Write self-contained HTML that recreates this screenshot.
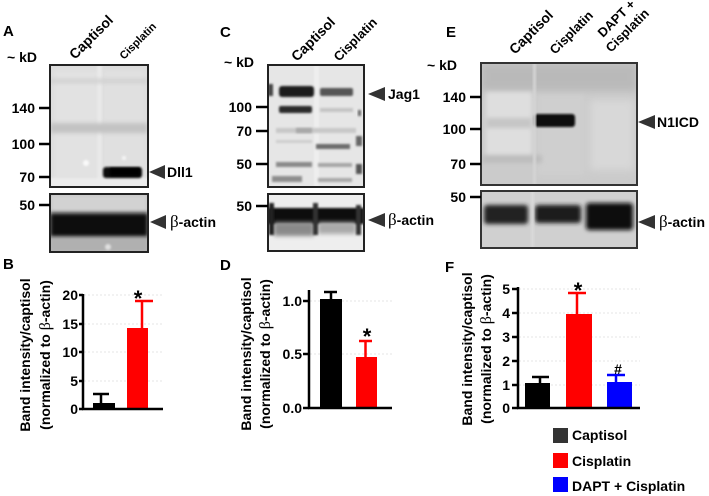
<!DOCTYPE html>
<html>
<head>
<meta charset="utf-8">
<style>
html,body{margin:0;padding:0;background:#fff;}
svg{display:block;}
.t{font-family:"Liberation Sans",Arial,sans-serif;font-weight:bold;fill:#000;}
.g{font-family:"Liberation Serif","Times New Roman",serif;font-weight:normal;}
</style>
</head>
<body>
<svg width="709" height="496" viewBox="0 0 709 496" xmlns="http://www.w3.org/2000/svg">
<defs>
<filter id="b1" x="-30%" y="-80%" width="160%" height="260%"><feGaussianBlur stdDeviation="1.1"/></filter>
<filter id="b2" x="-30%" y="-80%" width="160%" height="260%"><feGaussianBlur stdDeviation="2.2"/></filter>
<filter id="b4" x="-30%" y="-80%" width="160%" height="260%"><feGaussianBlur stdDeviation="4"/></filter>
<clipPath id="cA1"><rect x="50" y="65" width="98" height="122"/></clipPath>
<clipPath id="cA2"><rect x="50" y="194" width="98" height="58"/></clipPath>
<clipPath id="cC1"><rect x="268" y="65" width="96" height="122"/></clipPath>
<clipPath id="cC2"><rect x="268" y="194" width="96" height="57"/></clipPath>
<clipPath id="cE1"><rect x="481" y="63" width="156" height="122"/></clipPath>
<clipPath id="cE2"><rect x="481" y="191" width="156" height="57"/></clipPath>
</defs>
<rect width="709" height="496" fill="#fff"/>

<!-- ============ PANEL A ============ -->
<text class="t" x="3" y="36" font-size="15">A</text>
<text class="t" x="7" y="62" font-size="14">~ kD</text>
<text class="t" transform="translate(75,60) rotate(-45)" font-size="14">Captisol</text>
<text class="t" transform="translate(124,60) rotate(-45)" font-size="11">Cisplatin</text>

<g clip-path="url(#cA1)">
  <rect x="50" y="65" width="98" height="122" fill="#dcdcdc"/>
  <rect x="54" y="70" width="44" height="110" fill="#e2e2e2" filter="url(#b2)"/>
  <rect x="103" y="70" width="42" height="110" fill="#e0e0e0" filter="url(#b2)"/>
  <rect x="97" y="65" width="5" height="122" fill="#e9e9e9" filter="url(#b1)"/>
  <rect x="50" y="79" width="98" height="4" fill="#cfcfcf" filter="url(#b2)"/>
  <rect x="50" y="123" width="98" height="10" fill="#c2c2c2" filter="url(#b2)"/>
  <rect x="50" y="178" width="98" height="10" fill="#ececec" filter="url(#b1)"/>
  <circle cx="86" cy="163" r="3" fill="#fafafa" filter="url(#b1)"/>
  <circle cx="124" cy="158" r="2" fill="#f6f6f6" filter="url(#b1)"/>
  <rect x="103" y="167" width="39" height="11" rx="3" fill="#111" filter="url(#b1)"/>
  <rect x="110" y="168" width="30" height="8" fill="#000" filter="url(#b1)"/>
</g>
<rect x="50" y="65" width="98" height="122" fill="none" stroke="#222" stroke-width="2"/>

<g clip-path="url(#cA2)">
  <rect x="50" y="194" width="98" height="58" fill="#b8b8b8"/>
  <rect x="50" y="194" width="98" height="20" fill="#d2d2d2" filter="url(#b2)"/>
  <rect x="50" y="213" width="98" height="24" fill="#111" filter="url(#b2)"/>
  <rect x="50" y="238" width="98" height="14" fill="#b0b0b0" filter="url(#b2)"/>
  <circle cx="108" cy="247" r="3" fill="#e0e0e0" filter="url(#b1)"/>
</g>
<rect x="50" y="194" width="98" height="58" fill="none" stroke="#222" stroke-width="2"/>

<g class="t" font-size="14" text-anchor="end">
  <text x="35" y="113">140</text>
  <text x="35" y="149">100</text>
  <text x="35" y="182">70</text>
  <text x="35" y="210">50</text>
</g>
<g stroke="#000" stroke-width="2.5">
  <line x1="39" y1="108" x2="50" y2="108"/>
  <line x1="39" y1="144" x2="50" y2="144"/>
  <line x1="39" y1="177" x2="50" y2="177"/>
  <line x1="39" y1="205" x2="50" y2="205"/>
</g>
<polygon points="149,172 165,165 165,179" fill="#333"/>
<text class="t" x="167" y="177" font-size="14">Dll1</text>
<polygon points="150,222 166,215 166,229" fill="#333"/>
<text class="t" x="170" y="227" font-size="14"><tspan class="g" font-size="17">β</tspan>-actin</text>

<!-- ============ PANEL C ============ -->
<text class="t" x="220" y="37" font-size="15">C</text>
<text class="t" x="224" y="67" font-size="14">~ kD</text>
<text class="t" transform="translate(297,62) rotate(-45)" font-size="14">Captisol</text>
<text class="t" transform="translate(339,62) rotate(-45)" font-size="13">Cisplatin</text>

<g clip-path="url(#cC1)">
  <rect x="268" y="65" width="96" height="122" fill="#e6e6e6"/>
  <rect x="314" y="65" width="5" height="122" fill="#eeeeee" filter="url(#b1)"/>
  <rect x="279" y="86" width="35" height="11" rx="3" fill="#1a1a1a" filter="url(#b1)"/>
  <rect x="320" y="88" width="33" height="8" rx="2" fill="#555" filter="url(#b1)"/>
  <rect x="279" y="106" width="33" height="7" rx="2" fill="#2a2a2a" filter="url(#b1)"/>
  <rect x="320" y="108" width="33" height="4" fill="#c4c4c4" filter="url(#b1)"/>
  <rect x="276" y="128" width="80" height="5" fill="#c8c8c8" filter="url(#b1)"/>
  <rect x="296" y="128" width="16" height="5" fill="#a8a8a8" filter="url(#b1)"/>
  <rect x="276" y="140" width="36" height="3" fill="#cdcdcd" filter="url(#b1)"/>
  <rect x="316" y="144" width="34" height="5" fill="#6c6c6c" filter="url(#b1)"/>
  <rect x="276" y="162" width="36" height="5" fill="#8a8a8a" filter="url(#b1)"/>
  <rect x="318" y="163" width="34" height="4" fill="#a6a6a6" filter="url(#b1)"/>
  <rect x="272" y="176" width="30" height="6" fill="#8e8e8e" filter="url(#b1)"/>
  <rect x="318" y="178" width="34" height="4" fill="#a8a8a8" filter="url(#b1)"/>
  <rect x="268" y="84" width="5" height="12" fill="#444" filter="url(#b1)"/>
  <rect x="356" y="136" width="6" height="10" fill="#666" filter="url(#b1)"/>
  <rect x="356" y="164" width="6" height="10" fill="#555" filter="url(#b1)"/>
  <rect x="358" y="110" width="3" height="6" fill="#666" filter="url(#b1)"/>
</g>
<rect x="268" y="65" width="96" height="122" fill="none" stroke="#222" stroke-width="2"/>

<g clip-path="url(#cC2)">
  <rect x="268" y="194" width="96" height="57" fill="#eeeeee"/>
  <rect x="268" y="208" width="96" height="16" fill="#111" filter="url(#b1)"/>
  <rect x="274" y="222" width="40" height="14" fill="#8a8a8a" filter="url(#b2)"/>
  <rect x="318" y="222" width="38" height="12" fill="#aaaaaa" filter="url(#b2)"/>
  <rect x="269" y="203" width="5" height="32" fill="#222" filter="url(#b1)"/>
  <rect x="313" y="203" width="5" height="32" fill="#333" filter="url(#b1)"/>
  <rect x="356" y="205" width="5" height="30" fill="#333" filter="url(#b1)"/>
</g>
<rect x="268" y="194" width="96" height="57" fill="none" stroke="#222" stroke-width="2"/>

<g class="t" font-size="14" text-anchor="end">
  <text x="252" y="112">100</text>
  <text x="252" y="136">70</text>
  <text x="252" y="169">50</text>
  <text x="252" y="211">50</text>
</g>
<g stroke="#000" stroke-width="2.5">
  <line x1="256" y1="107" x2="268" y2="107"/>
  <line x1="256" y1="131" x2="268" y2="131"/>
  <line x1="256" y1="164" x2="268" y2="164"/>
  <line x1="256" y1="206" x2="268" y2="206"/>
</g>
<polygon points="368,94 385,87 385,101" fill="#333"/>
<text class="t" x="388" y="99" font-size="14">Jag1</text>
<polygon points="368,220 385,213 385,227" fill="#333"/>
<text class="t" x="388" y="225" font-size="14"><tspan class="g" font-size="17">β</tspan>-actin</text>

<!-- ============ PANEL E ============ -->
<text class="t" x="446" y="37" font-size="15">E</text>
<text class="t" x="427" y="70" font-size="14">~ kD</text>
<text class="t" transform="translate(515,55) rotate(-45)" font-size="14">Captisol</text>
<text class="t" transform="translate(555,55) rotate(-45)" font-size="13">Cisplatin</text>
<text class="t" transform="translate(603,38) rotate(-45)" font-size="13">DAPT +</text>
<text class="t" transform="translate(611,53) rotate(-45)" font-size="13">Cisplatin</text>

<g clip-path="url(#cE1)">
  <rect x="481" y="63" width="156" height="122" fill="#cbcbcb"/>
  <rect x="481" y="63" width="156" height="28" fill="#b9b9b9" filter="url(#b4)"/>
  <rect x="486" y="92" width="46" height="66" fill="#dedede" filter="url(#b2)"/>
  <rect x="486" y="118" width="46" height="10" fill="#c6c6c6" filter="url(#b2)"/>
  <rect x="538" y="95" width="46" height="80" fill="#cfcfcf" filter="url(#b2)"/>
  <rect x="590" y="100" width="44" height="70" fill="#d8d8d8" filter="url(#b4)"/>
  <rect x="482" y="155" width="60" height="8" fill="#bdbdbd" filter="url(#b2)"/>
  <rect x="534" y="114" width="41" height="13" rx="3" fill="#0a0a0a" filter="url(#b1)"/>
  <rect x="533" y="63" width="3" height="122" fill="#d4d4d4" filter="url(#b1)"/>
</g>
<rect x="481" y="63" width="156" height="122" fill="none" stroke="#333" stroke-width="2"/>

<g clip-path="url(#cE2)">
  <rect x="481" y="191" width="156" height="57" fill="#d0d0d0"/>
  <rect x="484" y="205" width="44" height="19" rx="3" fill="#222" filter="url(#b2)"/>
  <rect x="535" y="205" width="46" height="18" rx="3" fill="#1e1e1e" filter="url(#b2)"/>
  <rect x="586" y="203" width="47" height="27" rx="3" fill="#111" filter="url(#b2)"/>
  <rect x="531" y="191" width="3" height="57" fill="#dadada" filter="url(#b1)"/>
</g>
<rect x="481" y="191" width="156" height="57" fill="none" stroke="#333" stroke-width="2"/>

<g class="t" font-size="14" text-anchor="end">
  <text x="466" y="102">140</text>
  <text x="466" y="134">100</text>
  <text x="466" y="169">70</text>
  <text x="466" y="202">50</text>
</g>
<g stroke="#000" stroke-width="2.5">
  <line x1="470" y1="97" x2="481" y2="97"/>
  <line x1="470" y1="129" x2="481" y2="129"/>
  <line x1="470" y1="164" x2="481" y2="164"/>
  <line x1="470" y1="197" x2="481" y2="197"/>
</g>
<polygon points="638,122 655,115 655,129" fill="#333"/>
<text class="t" x="657" y="127" font-size="14">N1ICD</text>
<polygon points="638,222 655,215 655,229" fill="#333"/>
<text class="t" x="659" y="227" font-size="14"><tspan class="g" font-size="17">β</tspan>-actin</text>

<!-- ============ PANEL B ============ -->
<text class="t" x="3" y="269" font-size="15">B</text>
<g class="t" font-size="14" text-anchor="middle">
  <text transform="translate(30,355) rotate(-90)">Band intensity/captisol</text>
  <text transform="translate(50,355) rotate(-90)">(normalized to <tspan class="g" font-size="16">β</tspan>-actin)</text>
</g>
<g stroke="#e4e4e4" stroke-width="1" stroke-dasharray="2,2">
  <line x1="84" y1="295" x2="163" y2="295"/>
  <line x1="84" y1="324" x2="163" y2="324"/>
  <line x1="84" y1="352" x2="163" y2="352"/>
  <line x1="84" y1="381" x2="163" y2="381"/>
</g>
<rect x="93" y="403" width="22" height="6" fill="#000"/>
<g stroke="#000" stroke-width="2.5"><line x1="101" y1="394" x2="101" y2="403"/><line x1="93" y1="394" x2="109" y2="394"/></g>
<rect x="127" y="328" width="21" height="81" fill="#ff0000"/>
<g stroke="#ff0000" stroke-width="2.5"><line x1="142" y1="301" x2="142" y2="328"/><line x1="135" y1="301" x2="153" y2="301"/></g>
<text class="t" x="138" y="306" font-size="22" text-anchor="middle">*</text>
<g stroke="#000" stroke-width="2.5">
  <line x1="83" y1="294" x2="83" y2="410"/>
  <line x1="82" y1="409" x2="163" y2="409"/>
  <line x1="79" y1="295" x2="83" y2="295"/>
  <line x1="79" y1="324" x2="83" y2="324"/>
  <line x1="79" y1="352" x2="83" y2="352"/>
  <line x1="79" y1="381" x2="83" y2="381"/>
  <line x1="79" y1="409" x2="83" y2="409"/>
</g>
<g class="t" font-size="14" text-anchor="end">
  <text x="78" y="300">20</text>
  <text x="78" y="329">15</text>
  <text x="78" y="357">10</text>
  <text x="78" y="386">5</text>
  <text x="78" y="414">0</text>
</g>

<!-- ============ PANEL D ============ -->
<text class="t" x="220" y="270" font-size="15">D</text>
<g class="t" font-size="14" text-anchor="middle">
  <text transform="translate(251,354) rotate(-90)">Band intensity/captisol</text>
  <text transform="translate(270,354) rotate(-90)">(normalized to <tspan class="g" font-size="16">β</tspan>-actin)</text>
</g>
<g stroke="#e4e4e4" stroke-width="1" stroke-dasharray="2,2">
  <line x1="310" y1="301" x2="392" y2="301"/>
  <line x1="310" y1="354" x2="392" y2="354"/>
</g>
<rect x="320" y="299" width="22" height="109" fill="#000"/>
<g stroke="#000" stroke-width="2.5"><line x1="331" y1="292" x2="331" y2="299"/><line x1="324" y1="292" x2="337" y2="292"/></g>
<rect x="356" y="357" width="21" height="51" fill="#ff0000"/>
<g stroke="#ff0000" stroke-width="2.5"><line x1="365.5" y1="341" x2="365.5" y2="357"/><line x1="359" y1="341" x2="372" y2="341"/></g>
<text class="t" x="367" y="344" font-size="22" text-anchor="middle">*</text>
<g stroke="#000" stroke-width="2.5">
  <line x1="309" y1="290" x2="309" y2="409"/>
  <line x1="308" y1="408" x2="392" y2="408"/>
  <line x1="303" y1="301" x2="309" y2="301"/>
  <line x1="303" y1="354" x2="309" y2="354"/>
  <line x1="303" y1="408" x2="309" y2="408"/>
</g>
<g class="t" font-size="14" text-anchor="end">
  <text x="302" y="306">1.0</text>
  <text x="302" y="359">0.5</text>
  <text x="302" y="413">0.0</text>
</g>

<!-- ============ PANEL F ============ -->
<text class="t" x="445" y="272" font-size="15">F</text>
<g class="t" font-size="14" text-anchor="middle">
  <text transform="translate(472,349) rotate(-90)">Band intensity/captisol</text>
  <text transform="translate(491,349) rotate(-90)">(normalized to <tspan class="g" font-size="16">β</tspan>-actin)</text>
</g>
<g stroke="#e4e4e4" stroke-width="1" stroke-dasharray="2,2">
  <line x1="519" y1="289" x2="640" y2="289"/>
  <line x1="519" y1="313" x2="640" y2="313"/>
  <line x1="519" y1="337" x2="640" y2="337"/>
  <line x1="519" y1="361" x2="640" y2="361"/>
  <line x1="519" y1="385" x2="640" y2="385"/>
</g>
<rect x="525" y="383" width="25" height="25" fill="#000"/>
<g stroke="#000" stroke-width="2.5"><line x1="540" y1="377" x2="540" y2="383"/><line x1="532" y1="377" x2="549" y2="377"/></g>
<rect x="566" y="314" width="26" height="94" fill="#ff0000"/>
<g stroke="#ff0000" stroke-width="2.5"><line x1="577" y1="293" x2="577" y2="314"/><line x1="568" y1="293" x2="586" y2="293"/></g>
<rect x="607" y="382" width="25" height="26" fill="#0000ff"/>
<g stroke="#0000ff" stroke-width="2.5"><line x1="616" y1="375" x2="616" y2="382"/><line x1="607" y1="375" x2="625" y2="375"/></g>
<text class="t" x="578" y="298" font-size="22" text-anchor="middle">*</text>
<text class="t" x="618" y="374" font-size="14" text-anchor="middle">#</text>
<g stroke="#000" stroke-width="2.5">
  <line x1="518" y1="287" x2="518" y2="409"/>
  <line x1="517" y1="408" x2="640" y2="408"/>
  <line x1="512" y1="289" x2="518" y2="289"/>
  <line x1="512" y1="313" x2="518" y2="313"/>
  <line x1="512" y1="337" x2="518" y2="337"/>
  <line x1="512" y1="361" x2="518" y2="361"/>
  <line x1="512" y1="385" x2="518" y2="385"/>
  <line x1="512" y1="408" x2="518" y2="408"/>
</g>
<g class="t" font-size="14" text-anchor="end">
  <text x="510" y="294">5</text>
  <text x="510" y="318">4</text>
  <text x="510" y="342">3</text>
  <text x="510" y="366">2</text>
  <text x="510" y="390">1</text>
  <text x="510" y="413">0</text>
</g>

<!-- legend -->
<rect x="553" y="428" width="15" height="15" fill="#333"/>
<rect x="553" y="453" width="15" height="15" fill="#ff0000"/>
<rect x="553" y="477" width="15" height="15" fill="#0000ff"/>
<g class="t" font-size="14">
  <text x="572" y="440">Captisol</text>
  <text x="572" y="466">Cisplatin</text>
  <text x="572" y="491">DAPT + Cisplatin</text>
</g>
</svg>
</body>
</html>
